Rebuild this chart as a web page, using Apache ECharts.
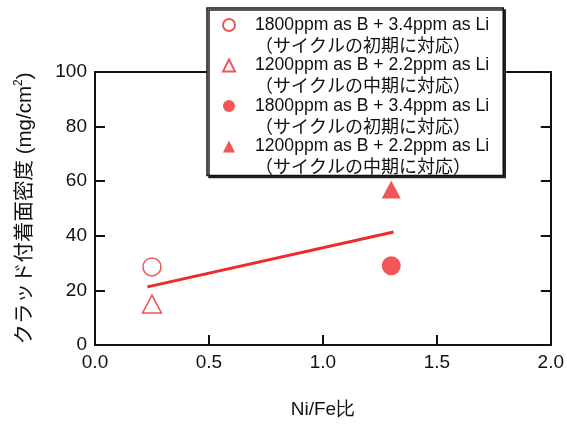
<!DOCTYPE html>
<html><head><meta charset="utf-8">
<script src="https://cdn.jsdelivr.net/npm/echarts@6/dist/echarts.min.js"></script>
<style>html,body{margin:0;padding:0;background:#fff}#c{width:567px;height:424px}</style>
</head><body><div id="c"></div>
<script>
const xTicks = [0.0, 0.5, 1.0, 1.5, 2.0];
const yTicks = [0, 20, 40, 60, 80, 100];
const legendLine1 = ['1800ppm as B + 3.4ppm as Li', '1200ppm as B + 2.2ppm as Li', '1800ppm as B + 3.4ppm as Li', '1200ppm as B + 2.2ppm as Li'];
const legendLine2 = ['（サイクルの初期に対応）', '（サイクルの中期に対応）', '（サイクルの初期に対応）', '（サイクルの中期に対応）'];
const seriesKeys = ['s1', 's2', 's3', 's4'];
const openCircle = [[0.25, 28.6]];
const openTriangle = [[0.25, 15.0]];
const filledCircle = [[1.3, 29.0]];
const filledTriangle = [[1.3, 57.0]];
const fitLine = [[0.23, 21.3], [1.31, 41.4]];
const xName = 'Ni/Fe比';

const RED = '#ee2a2a';
const chart = echarts.init(document.getElementById('c'), null, {renderer: 'canvas'});
const axisCommon = {
  axisLine: {show: true, onZero: false, lineStyle: {color: '#111', width: 2}},
  axisTick: {show: true, inside: true, length: 10, lineStyle: {color: '#111', width: 2}},
  splitLine: {show: false}
};
const labelFont = {color: '#111', fontFamily: 'Liberation Sans', fontSize: 19};
const fmtX = v => { const i = xTicks.indexOf(v); return i >= 0 ? xTicks[i].toFixed(1) : ''; };
const legendIdx = name => seriesKeys.indexOf(name);

chart.setOption({
  animation: false,
  backgroundColor: '#fff',
  grid: {left: 95, right: 16, top: 72, bottom: 78},
  xAxis: [
    Object.assign({type: 'value', min: xTicks[0], max: xTicks[xTicks.length-1], interval: 0.5, position: 'bottom',
      name: xName, nameLocation: 'middle', nameGap: 55,
      nameTextStyle: {color: '#111', fontFamily: 'Liberation Sans', fontSize: 19},
      axisLabel: Object.assign({margin: 8, formatter: fmtX}, labelFont)}, axisCommon),
    Object.assign({type: 'value', min: xTicks[0], max: xTicks[xTicks.length-1], interval: 0.5, position: 'top',
      axisLabel: {show: false}}, axisCommon)
  ],
  yAxis: [
    Object.assign({type: 'value', min: yTicks[0], max: yTicks[yTicks.length-1], interval: 20, position: 'left',
      name: 'クラッド付着面密度 (mg/cm{sup|2})', nameLocation: 'middle', nameRotate: 90, nameGap: 57,
      nameTextStyle: {color: '#111', fontFamily: 'Liberation Sans, Noto Sans CJK JP', fontSize: 20.5,
        rich: {sup: {fontSize: 12, verticalAlign: 'top', padding: [0, 0, 13, 0], fontFamily: 'Liberation Sans'}}},
      axisLabel: Object.assign({margin: 8}, labelFont)}, axisCommon),
    Object.assign({type: 'value', min: yTicks[0], max: yTicks[yTicks.length-1], interval: 20, position: 'right',
      axisLabel: {show: false}}, axisCommon)
  ],
  legend: {
    orient: 'vertical', left: 207, top: 8, z: 10,
    width: 292,
    padding: [8, 14, 0, 15],
    itemGap: 2.5,
    itemWidth: 12, itemHeight: 12,
    backgroundColor: '#fff', borderColor: '#111', borderWidth: 1.5,
    shadowColor: '#222', shadowBlur: 0, shadowOffsetX: 2, shadowOffsetY: 2,
    data: seriesKeys,
    formatter: name => { const i = legendIdx(name); return '{a|' + legendLine1[i] + '}\n{b|' + legendLine2[i] + '}'; },
    textStyle: {
      color: '#111', padding: [20, 0, 0, 15],
      rich: {
        a: {fontFamily: 'Liberation Sans', fontSize: 17.6, lineHeight: 20, color: '#111'},
        b: {fontFamily: 'Noto Sans CJK JP', fontSize: 18, lineHeight: 20, color: '#111'}
      }
    }
  },
  series: [
    {type: 'line', data: fitLine, symbol: 'none', lineStyle: {color: RED, width: 3}, z: 2, silent: true},
    {name: 's1', type: 'scatter', data: openCircle, symbol: 'circle', symbolSize: 18,
      itemStyle: {color: '#fff', borderColor: RED, borderWidth: 1.5}, z: 3},
    {name: 's2', type: 'scatter', data: openTriangle, symbol: 'triangle', symbolSize: [19, 18],
      itemStyle: {color: '#fff', borderColor: RED, borderWidth: 1.5}, z: 3},
    {name: 's3', type: 'scatter', data: filledCircle, symbol: 'circle', symbolSize: 19,
      itemStyle: {color: RED}, z: 3},
    {name: 's4', type: 'scatter', data: filledTriangle, symbol: 'triangle', symbolSize: [19, 18],
      itemStyle: {color: RED}, z: 3}
  ]
});
</script></body></html>
